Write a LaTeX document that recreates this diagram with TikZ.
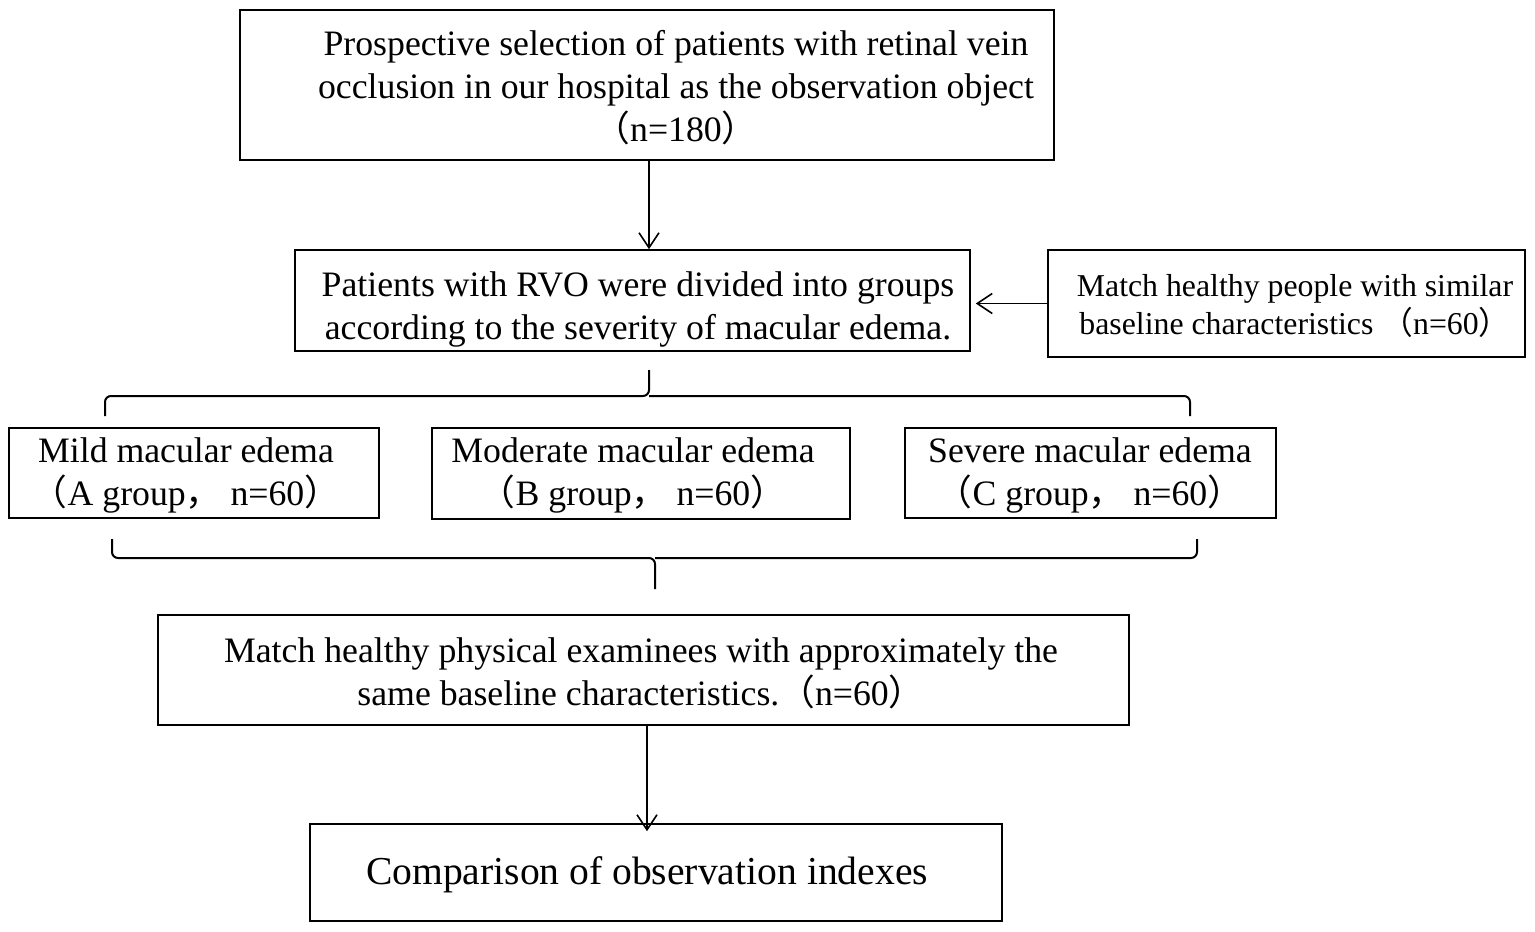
\documentclass[tikz,border=0pt]{standalone}
\usepackage{fontspec}
\setmainfont{Liberation Serif}
\newfontfamily\cjk{Noto Sans CJK SC}
\usetikzlibrary{arrows.meta}
\newcommand\flp{{\cjk （}}
\newcommand\frp{{\cjk ）}}
\newcommand\fcomma{{\cjk ，}}
\begin{document}
\begin{tikzpicture}[x=1pt,y=-1pt,
  box/.style={draw=black,line width=1.6pt,rectangle,inner sep=0pt},
  txt/.style={align=center,inner sep=0pt,font=\fontsize{35.75}{43}\selectfont},
  smalltxt/.style={align=center,inner sep=0pt,font=\fontsize{31.8}{38}\selectfont},
  bigtxt/.style={align=center,inner sep=0pt,font=\fontsize{39.6}{46}\selectfont},
  arr/.style={line width=1.6pt,-{Straight Barb[length=15pt,width=20pt,line width=1.6pt]}},
  brace/.style={line width=2pt,rounded corners=6pt}]
\useasboundingbox (0,0) rectangle (1535,932);
\fill[white] (0,0) rectangle (1535,932);
% boxes
\node[box,minimum width=814,minimum height=150] (top) at (647,85) {};
\node[txt] (topt) at (676,88) {Prospective selection of patients with retinal vein\\occlusion in our hospital as the observation object\\\flp n=180\frp};
\node[box,minimum width=675,minimum height=101] (div) at (632.5,300.5) {};
\node[txt] (divt) at (638,309) {Patients with RVO were divided into groups\\according to the severity of macular edema.};
\node[box,minimum width=477,minimum height=107] (hp) at (1286.5,303.5) {};
\node[smalltxt] (hpt) at (1295,306) {Match healthy people with similar\\baseline characteristics \flp n=60\frp};
\node[box,minimum width=370,minimum height=90] (ga) at (194,473) {};
\node[txt] (gat) at (186,475) {Mild macular edema\\\flp A group\fcomma\ n=60\frp};
\node[box,minimum width=418,minimum height=91] (gb) at (641,473.5) {};
\node[txt] (gbt) at (633,475) {Moderate macular edema\\\flp B group\fcomma\ n=60\frp};
\node[box,minimum width=371,minimum height=90] (gc) at (1090.5,473) {};
\node[txt] (gct) at (1090,475) {Severe macular edema\\\flp C group\fcomma\ n=60\frp};
\node[box,minimum width=971,minimum height=110] (mh) at (643.5,670) {};
\node[txt] (mht) at (641,673) {Match healthy physical examinees with approximately the\\same baseline characteristics.\flp n=60\frp};
\node[box,minimum width=692,minimum height=97] (cmp) at (656,872.5) {};
\node[bigtxt] (cmpt) at (647,875) {Comparison of observation indexes};
% arrows
\draw[arr] (top.south -| 649,0) -- (div.north -| 649,0);
\draw[arr] (hp.west) -- ([xshift=5pt]div.east |- hp.west);
\draw[arr] (mh.south -| 647,0) -- ([yshift=-8pt]cmp.north -| 647,0);
% braces
\coordinate (b1s) at (649,370);
\coordinate (b1l) at (105,416);
\coordinate (b1r) at (1190,416);
\draw[brace] (b1l) -- (105,396) -- (649,396) -- (b1s);
\draw[brace] (b1r) -- (1190,396) -- (649,396);
\coordinate (b2s) at (655,589);
\coordinate (b2l) at (112,539);
\coordinate (b2r) at (1197,539);
\draw[brace] (b2l) -- (112,558) -- (655,558) -- (b2s);
\draw[brace] (b2r) -- (1197,558) -- (655,558);
\end{tikzpicture}
\end{document}
